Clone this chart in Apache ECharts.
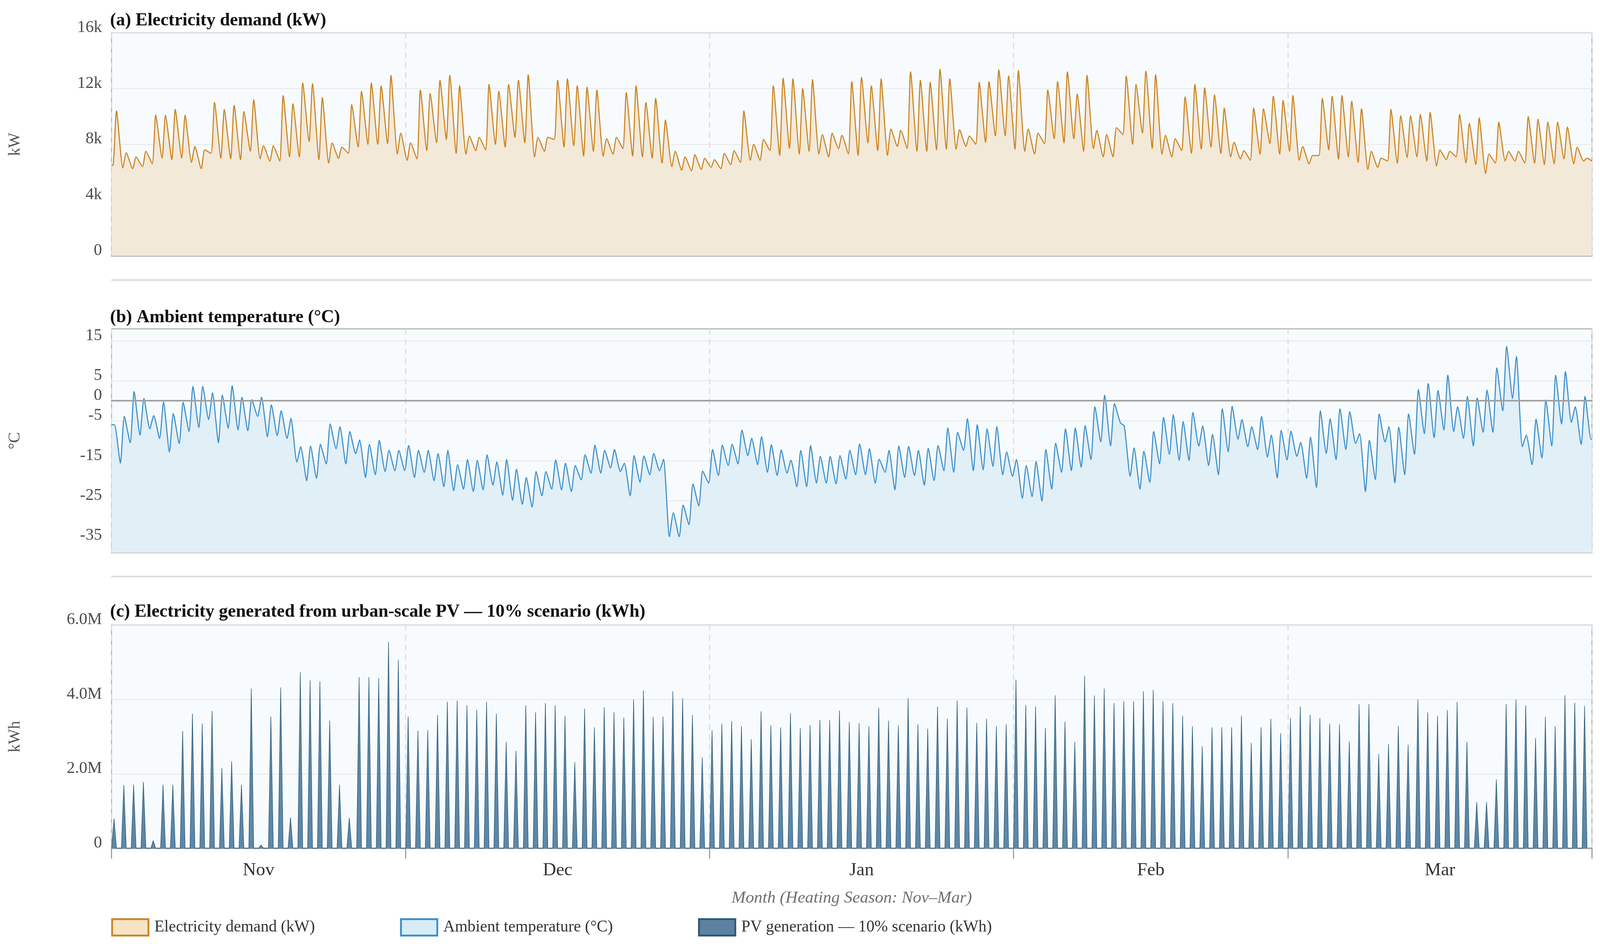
<!DOCTYPE html>
<html lang="en">
<head>
<meta charset="UTF-8">
<title>Heating season: demand, temperature, PV</title>
<script src="https://cdn.jsdelivr.net/npm/echarts@6/dist/echarts.min.js"></script>
<style>
    html, body { margin: 0; padding: 0; background: #fff; overflow: hidden; }
    #main { width: 100vw; height: 100vh; }
</style>
</head>
<body>
<div id="main"></div>
<script>
// months of the heating season, day index counted from 1 Nov
var monthNames = ['Nov', 'Dec', 'Jan', 'Feb', 'Mar'];
var monthMid = [15, 45.5, 76.5, 106, 135.5];
var monthStart = [0, 30, 61, 92, 120, 151];

// (a) electricity demand, kW: daily peak and daily low
var demandHigh = [10400, 7400, 7100, 7500, 10100, 10100, 10500, 10100, 7850, 7600,
    11000, 10500, 10800, 10350, 11200, 7900, 7900, 11500, 10900, 12400,
    12350, 11350, 8100, 7800, 10850, 11800, 12400, 12200, 12950, 8800,
    8100, 11900, 11650, 12600, 12950, 12200, 8600, 8500, 12300, 11800,
    12300, 12600, 13000, 8500, 8500, 12600, 12700, 12200, 12100, 11900,
    8400, 8500, 11700, 12200, 11000, 11300, 9750, 7500, 7100, 7250,
    7000, 6900, 7350, 7550, 10400, 8000, 8350, 12200, 12750, 12700,
    12000, 12650, 8700, 8800, 8650, 12500, 12800, 12200, 12700, 9100,
    9000, 13200, 12600, 12450, 13400, 12700, 9050, 8600, 12450, 12500,
    13350, 12900, 13300, 9100, 8800, 11900, 12500, 13200, 11600, 12950,
    9000, 8700, 9200, 12900, 12300, 13250, 13000, 8650, 8400, 11400,
    12300, 12050, 11550, 10600, 8150, 7550, 10600, 10550, 11450, 11150,
    11500, 7850, 7200, 11300, 11450, 11500, 11100, 10550, 7500, 7000,
    10500, 10050, 10050, 10150, 10300, 7600, 7500, 10150, 9500, 9900,
    7300, 9600, 7500, 7500, 10000, 9800, 9600, 9600, 9250, 7800, 7000];
var demandLow = [6500, 6300, 6250, 6400, 6600, 7000, 6900, 7000, 6700, 6250,
    7350, 7000, 6950, 6900, 7500, 6950, 6800, 6800, 7100, 7100,
    8200, 6900, 6650, 7000, 7350, 7800, 8000, 8000, 8050, 7300,
    6850, 6950, 7550, 8100, 8350, 7350, 7300, 7550, 7600, 8000,
    7800, 8500, 8100, 7100, 7500, 8350, 7800, 7900, 7150, 7500,
    7150, 7300, 7700, 7150, 7100, 7000, 6650, 6400, 6150, 6100,
    6200, 6350, 6250, 6550, 6700, 6850, 6850, 7550, 7200, 7700,
    7300, 7500, 7300, 7100, 7700, 7300, 7200, 8100, 7550, 7200,
    7850, 7700, 7500, 7500, 7600, 7650, 7650, 7850, 8000, 8150,
    8600, 8600, 7650, 7500, 7300, 8050, 8400, 8100, 8400, 7500,
    7700, 7100, 7100, 8700, 8000, 8800, 7700, 7300, 7100, 7550,
    7350, 7650, 7800, 7350, 7100, 6950, 6850, 7300, 8050, 7300,
    7500, 6850, 6600, 7200, 7600, 6950, 7100, 6700, 6200, 6350,
    6800, 6650, 7050, 7100, 6800, 6450, 6900, 7100, 6650, 6550,
    5900, 6650, 6800, 6800, 6650, 6650, 6550, 6600, 6950, 6600, 6800];

// (b) ambient temperature, °C: daily max and daily min
var tempHigh = [-6.0, -3.9, 2.3, 0.6, -3.7, -0.3, -3.2, -0.4, 3.6, 3.6,
    2.0, 1.4, 3.8, 0.9, 0.3, 0.9, -1.0, -2.5, -4.4, -11.5,
    -11.3, -10.9, -5.8, -6.5, -7.7, -9.8, -10.9, -9.9, -12.4, -12.4,
    -11.2, -12.4, -12.4, -13.2, -12.4, -16.0, -14.7, -14.9, -13.5, -15.3,
    -14.7, -17.1, -19.2, -17.7, -17.7, -14.8, -15.6, -16.2, -13.5, -11.1,
    -12.4, -12.2, -15.6, -13.7, -13.8, -13.2, -14.6, -28.0, -26.1, -20.8,
    -17.6, -12.2, -11.1, -10.9, -7.3, -9.4, -9.0, -11.0, -12.3, -14.9,
    -12.4, -11.2, -13.9, -13.9, -13.7, -12.4, -10.8, -12.0, -14.6, -12.4,
    -11.3, -11.4, -12.4, -11.9, -11.2, -6.8, -7.9, -4.5, -6.0, -7.0,
    -6.5, -12.8, -14.7, -16.2, -15.2, -12.2, -10.6, -7.0, -6.8, -6.2,
    -1.5, 1.4, -0.7, -6.3, -11.8, -12.6, -7.7, -4.1, -3.5, -5.2,
    -2.9, -6.3, -8.4, -2.0, -1.4, -4.7, -6.5, -3.9, -8.6, -7.4,
    -7.6, -10.4, -9.1, -2.5, -4.5, -2.0, -2.7, -8.2, -9.9, -3.3,
    -6.5, -6.6, -3.3, 2.8, 4.3, 2.6, 6.4, -1.5, 1.1, 0.7,
    2.7, 8.2, 13.6, 11.1, -8.6, -4.6, 0.2, 6.4, 7.3, -1.5, 1.1];
var tempLow = [-15.6, -10.5, -8.6, -7.0, -9.4, -12.8, -10.7, -7.7, -6.7, -4.7,
    -10.5, -6.9, -7.3, -7.5, -3.9, -9.0, -8.7, -9.4, -15.3, -20.0,
    -19.4, -15.8, -12.0, -15.8, -13.2, -19.2, -18.5, -17.7, -17.5, -17.5,
    -19.2, -17.9, -20.0, -21.5, -22.5, -22.1, -22.7, -22.3, -21.1, -23.6,
    -24.9, -25.9, -26.6, -23.8, -22.1, -22.3, -22.7, -19.8, -18.1, -18.1,
    -16.8, -17.7, -23.8, -20.4, -18.5, -17.5, -34.0, -34.0, -31.0, -26.3,
    -20.6, -18.7, -16.2, -15.8, -13.7, -16.0, -17.9, -18.7, -18.1, -21.5,
    -21.5, -20.6, -20.6, -20.8, -19.6, -18.5, -18.5, -20.6, -17.9, -22.3,
    -19.2, -18.7, -21.1, -20.0, -17.5, -17.9, -12.4, -17.5, -17.3, -16.4,
    -18.5, -18.9, -24.4, -24.0, -25.1, -22.1, -17.9, -17.5, -16.6, -14.7,
    -10.3, -11.3, -5.5, -18.9, -22.1, -20.4, -15.8, -13.4, -14.9, -14.9,
    -11.3, -16.2, -18.5, -12.8, -9.6, -11.5, -12.2, -14.1, -19.3, -14.8,
    -13.9, -19.4, -21.7, -13.2, -14.7, -12.2, -10.7, -22.7, -19.7, -10.3,
    -20.5, -18.5, -13.4, -8.2, -9.2, -7.3, -7.7, -9.4, -11.3, -7.9,
    -7.9, -2.5, 0.6, -11.5, -16.0, -14.3, -11.3, -5.8, -5.4, -10.9, -9.6];

// (c) PV generation, 10% scenario: daily peak in million kWh
var pvPeakM = [0.80, 1.70, 1.71, 1.78, 0.21, 1.71, 1.71, 3.15, 3.62, 3.35,
    3.69, 2.15, 2.34, 1.71, 4.29, 0.09, 3.54, 4.32, 0.83, 4.73,
    4.51, 4.48, 3.43, 1.71, 0.82, 4.60, 4.60, 4.57, 5.55, 5.06,
    3.54, 3.16, 3.17, 3.58, 3.94, 3.97, 3.84, 3.72, 3.94, 3.62,
    2.86, 2.62, 3.84, 3.65, 3.90, 3.84, 3.56, 2.31, 3.75, 3.25,
    3.79, 3.65, 3.51, 4.00, 4.24, 3.53, 3.54, 4.22, 4.03, 3.58,
    2.44, 3.17, 3.34, 3.42, 3.28, 2.93, 3.68, 3.30, 3.25, 3.63,
    3.23, 3.31, 3.45, 3.44, 3.70, 3.39, 3.36, 3.28, 3.78, 3.43,
    3.30, 4.03, 3.33, 3.21, 3.81, 3.48, 3.97, 3.78, 3.37, 3.48,
    3.28, 3.33, 4.53, 3.85, 3.81, 3.23, 4.11, 3.40, 2.86, 4.64,
    4.10, 4.29, 3.90, 3.95, 3.95, 4.22, 4.25, 3.95, 3.90, 3.56,
    3.28, 2.74, 3.25, 3.25, 3.25, 3.56, 2.83, 3.25, 3.48, 3.09,
    3.50, 3.81, 3.59, 3.50, 3.35, 3.33, 2.87, 3.87, 3.87, 2.53,
    2.80, 3.28, 2.78, 4.00, 3.65, 3.56, 3.71, 3.93, 2.86, 1.24,
    1.24, 1.85, 3.87, 4.00, 3.84, 2.96, 3.53, 3.28, 4.11, 3.91, 3.82];

var seriesNames = ['Electricity demand (kW)', 'Ambient temperature (°C)', 'PV generation — 10% scenario (kWh)'];

// build [day, value] points: night low / midday peak for each day
var nDays = demandHigh.length;
var demandData = [[0, demandLow[0]]];
var tempData = [[0, tempHigh[0]]];
var pvData = [];
for (var d = 0; d < nDays; d++) {
    demandData.push([d + 0.15, demandLow[d]]);
    demandData.push([d + 0.5, demandHigh[d]]);
    tempData.push([d + 0.3, tempHigh[d]]);
    tempData.push([d + 0.9, tempLow[d]]);
    pvData.push([d + 0.0, 0]);
    pvData.push([d + 0.25, pvPeakM[d] * 1e6]);
    pvData.push([d + 0.5, 0]);
}
demandData.push([nDays, demandLow[nDays - 1]]);
tempData.push([nDays, tempLow[nDays - 1]]);

// layout was measured on a 4360 x 2417 page; scale to the real window
var el = document.getElementById('main');
var sx = el.clientWidth / 4360, sy = el.clientHeight / 2417, sf = Math.min(sx, sy);
function X(v) { return v * sx; }
function Y(v) { return v * sy; }
function F(v) { return v * sf; }

var FONT = 'Liberation Serif';
var myChart = echarts.init(el);

var grids = [
    {left: X(304), right: X(22), top: Y(84), height: Y(571)},
    {left: X(304), right: X(22), top: Y(842), height: Y(573)},
    {left: X(304), right: X(22), top: Y(1600), height: Y(572)}
];
grids.forEach(function (g) {
    g.show = true;
    g.backgroundColor = '#f7fbfd';
    g.borderColor = '#b5b5b5';
    g.borderWidth = F(3);
});

function xAxisFor(i, withLabels) {
    return {
        type: 'value', gridIndex: i, min: 0, max: nDays,
        axisLine: {show: true, lineStyle: {color: '#a6a6a6', width: F(4)}},
        axisTick: {show: withLabels, customValues: monthStart, length: Y(26), lineStyle: {color: '#9a9a9a', width: F(3)}},
        axisLabel: {
            show: withLabels, customValues: monthMid, margin: Y(33),
            fontFamily: FONT, fontSize: F(50), color: '#333',
            formatter: function (v) { return monthNames[monthMid.indexOf(v)]; }
        },
        splitLine: {show: true, lineStyle: {color: '#dcdcdc', width: F(3), type: [F(16), F(11)]}},
        name: withLabels ? 'Month (Heating Season: Nov–Mar)' : '',
        nameLocation: 'middle', nameGap: Y(106),
        nameTextStyle: {fontFamily: FONT, fontSize: F(46), fontStyle: 'italic', color: '#6f6f6f'}
    };
}

function yLabelStyle(fmt, custom) {
    var s = {
        fontFamily: FONT, fontSize: F(45), color: '#4d4d4d', margin: X(26),
        verticalAlign: 'bottom', lineHeight: F(28), formatter: fmt
    };
    if (custom) s.customValues = custom;
    return s;
}
function yName(txt) {
    return {name: txt, nameLocation: 'middle', nameGap: X(240),
        nameTextStyle: {fontFamily: FONT, fontSize: F(44), color: '#555'}};
}
var gridLine = {show: true, lineStyle: {color: '#e7e7e7', width: F(2)}};

var yDemand = Object.assign({
    type: 'value', gridIndex: 0, min: 0, max: 16000, interval: 4000,
    axisLine: {show: false}, axisTick: {show: false}, splitLine: gridLine,
    axisLabel: yLabelStyle(function (v) { return v === 0 ? '0' : (v / 1000) + 'k'; })
}, yName('kW'));
var yTemp = Object.assign({
    type: 'value', gridIndex: 1, min: -38, max: 18,
    axisLine: {show: false},
    axisTick: {show: false, customValues: [-35, -25, -15, -5, 5, 15]},
    splitLine: gridLine,
    axisLabel: yLabelStyle(function (v) { return String(v); }, [-35, -25, -15, -5, 0, 5, 15])
}, yName('°C'));
var yPV = Object.assign({
    type: 'value', gridIndex: 2, min: 0, max: 6e6, interval: 2e6,
    axisLine: {show: false}, axisTick: {show: false}, splitLine: gridLine,
    axisLabel: yLabelStyle(function (v) { return v === 0 ? '0' : (v / 1e6).toFixed(1) + 'M'; })
}, yName('kWh'));

var titleStyle = {fontFamily: FONT, fontSize: F(49), fontWeight: 'bold', color: '#111'};

option = {
    animation: false,
    backgroundColor: '#ffffff',
    textStyle: {fontFamily: FONT},
    title: [
        {text: '(a) Electricity demand (kW)', left: X(300), top: Y(30), padding: 0, textStyle: titleStyle},
        {text: '(b) Ambient temperature (°C)', left: X(300), top: Y(790), padding: 0, textStyle: titleStyle},
        {text: '(c) Electricity generated from urban-scale PV — 10% scenario (kWh)', left: X(300), top: Y(1544), padding: 0, textStyle: titleStyle}
    ],
    grid: grids,
    xAxis: [xAxisFor(0, false), xAxisFor(1, false), xAxisFor(2, true)],
    yAxis: [yDemand, yTemp, yPV],
    legend: {
        left: X(303), top: Y(2351), padding: 0, itemWidth: X(99), itemHeight: Y(42), itemGap: X(232),
        textStyle: {fontFamily: FONT, fontSize: F(44), color: '#333', padding: [0, 0, 0, X(11)]},
        data: [
            {name: seriesNames[0], icon: 'rect', itemStyle: {color: '#f6e4c5', borderColor: '#cc8422', borderWidth: F(5)}},
            {name: seriesNames[1], icon: 'rect', itemStyle: {color: '#d8ecf6', borderColor: '#3b8fcd', borderWidth: F(5)}},
            {name: seriesNames[2], icon: 'rect', itemStyle: {color: '#5c829f', borderColor: '#2a5879', borderWidth: F(5)}}
        ]
    },
    graphic: [
        {type: 'line', shape: {x1: X(303), y1: Y(717), x2: X(4338), y2: Y(717)}, style: {stroke: '#dcdcdc', lineWidth: F(4)}},
        {type: 'line', shape: {x1: X(303), y1: Y(1476), x2: X(4338), y2: Y(1476)}, style: {stroke: '#dcdcdc', lineWidth: F(4)}}
    ],
    series: [
        {
            name: seriesNames[0], type: 'line', xAxisIndex: 0, yAxisIndex: 0,
            data: demandData, showSymbol: false, smooth: 0.2,
            itemStyle: {color: '#cc8422'},
            lineStyle: {color: '#cc8422', width: F(3)},
            areaStyle: {color: '#f3e9d8', opacity: 1}
        },
        {
            name: seriesNames[1], type: 'line', xAxisIndex: 1, yAxisIndex: 1,
            data: tempData, showSymbol: false, smooth: 0.2,
            itemStyle: {color: '#3b8fcd'},
            lineStyle: {color: '#3b8fcd', width: F(3)},
            areaStyle: {color: '#e1eff7', opacity: 1, origin: 'start'},
            markLine: {
                silent: true, symbol: 'none', label: {show: false},
                lineStyle: {color: '#a0a0a0', width: F(4), type: 'solid'},
                data: [{yAxis: 0}]
            }
        },
        {
            name: seriesNames[2], type: 'line', xAxisIndex: 2, yAxisIndex: 2,
            data: pvData, showSymbol: false,
            itemStyle: {color: '#5c829f'},
            lineStyle: {color: '#2f5e80', width: F(1.5)},
            areaStyle: {color: '#5f87a5', opacity: 1}
        }
    ]
};
myChart.setOption(option);
</script>
</body>
</html>
